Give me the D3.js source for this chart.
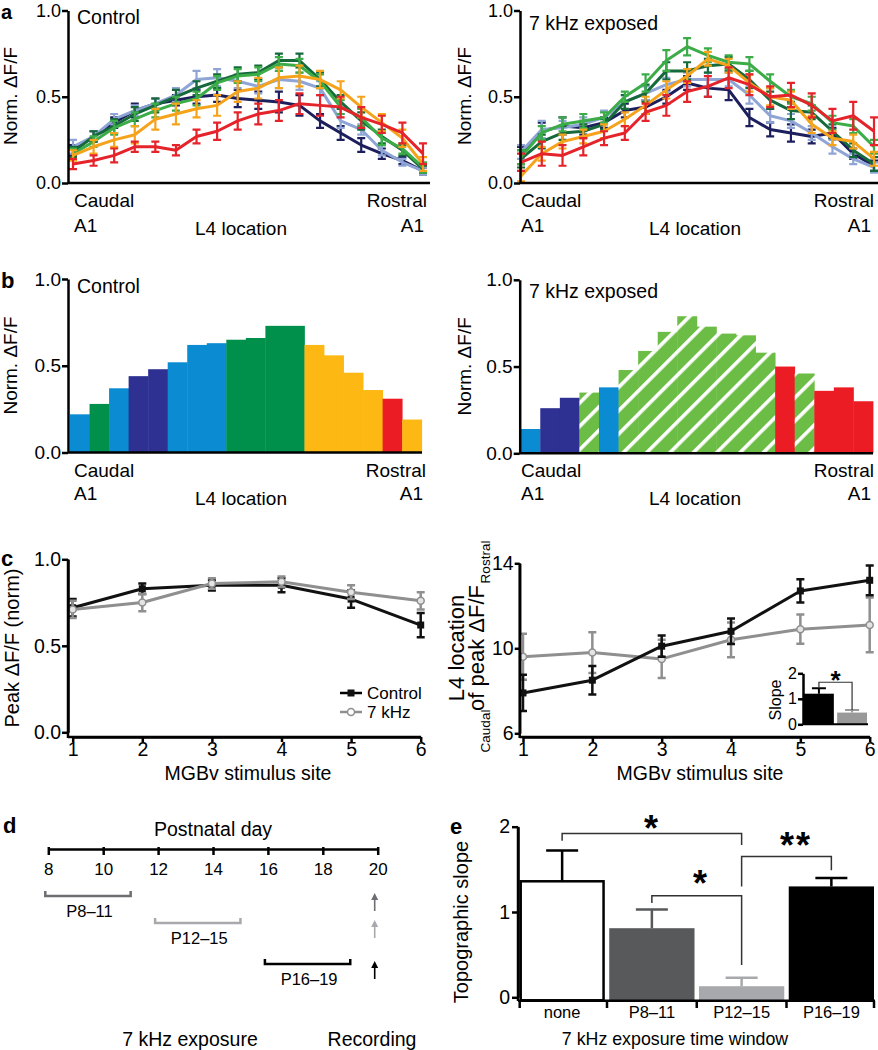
<!DOCTYPE html>
<html><head><meta charset="utf-8">
<script src="https://cdn.jsdelivr.net/npm/d3@7"></script>
<style>
body{margin:0;background:#fff;}
svg{display:block;font-family:"Liberation Sans",Arial,Helvetica,sans-serif;}
</style></head><body>
<svg id="fig" width="878" height="1050"></svg>
<script>
// ---------------- DATA ----------------
// Panel a: L4 locations (caudal -> rostral), 6 MGBv stimulus sites
const aLocations = [1,2,3,4,5,6,7,8,9,10,11,12,13,14,15,16,17,18];
const aSeries = ["site A","site B","site C","site D","site E","site F"];
const aControlMean = [
  [0.19,0.27,0.35,0.42,0.46,0.48,0.50,0.51,0.49,0.48,0.47,0.45,0.36,0.29,0.22,0.17,0.13,0.07],
  [0.21,0.27,0.37,0.42,0.46,0.51,0.60,0.61,0.59,0.56,0.60,0.59,0.55,0.36,0.31,0.19,0.12,0.07],
  [0.18,0.27,0.33,0.40,0.45,0.50,0.55,0.59,0.63,0.64,0.71,0.71,0.60,0.47,0.36,0.27,0.19,0.08],
  [0.17,0.24,0.32,0.37,0.42,0.46,0.49,0.58,0.62,0.63,0.69,0.68,0.59,0.44,0.38,0.26,0.20,0.09],
  [0.16,0.21,0.25,0.28,0.37,0.40,0.43,0.45,0.53,0.55,0.61,0.62,0.60,0.54,0.44,0.35,0.26,0.11],
  [0.11,0.13,0.16,0.21,0.21,0.19,0.27,0.30,0.36,0.40,0.42,0.46,0.45,0.44,0.38,0.34,0.29,0.17]
];
const aControlErr = [
  [0.03,0.03,0.03,0.04,0.03,0.03,0.04,0.04,0.05,0.05,0.06,0.06,0.04,0.04,0.04,0.03,0.02,0.02],
  [0.04,0.03,0.03,0.03,0.03,0.04,0.05,0.05,0.04,0.04,0.05,0.05,0.04,0.04,0.03,0.03,0.02,0.02],
  [0.03,0.03,0.04,0.04,0.04,0.04,0.04,0.04,0.04,0.04,0.04,0.04,0.04,0.04,0.05,0.04,0.03,0.02],
  [0.03,0.03,0.04,0.04,0.04,0.04,0.04,0.04,0.04,0.04,0.04,0.04,0.04,0.04,0.05,0.04,0.03,0.03],
  [0.03,0.04,0.04,0.05,0.06,0.06,0.05,0.06,0.06,0.06,0.06,0.06,0.05,0.05,0.06,0.05,0.05,0.04],
  [0.03,0.03,0.04,0.03,0.03,0.03,0.04,0.05,0.05,0.06,0.06,0.06,0.06,0.06,0.06,0.05,0.06,0.06]
];
const a7kMean = [
  [0.16,0.30,0.33,0.32,0.35,0.42,0.44,0.50,0.58,0.55,0.54,0.38,0.31,0.29,0.27,0.29,0.17,0.10],
  [0.18,0.31,0.32,0.34,0.38,0.47,0.52,0.57,0.60,0.60,0.60,0.51,0.39,0.36,0.29,0.21,0.14,0.09],
  [0.14,0.24,0.29,0.30,0.34,0.47,0.52,0.65,0.65,0.68,0.69,0.60,0.48,0.42,0.41,0.30,0.19,0.11],
  [0.15,0.29,0.34,0.36,0.38,0.50,0.58,0.71,0.79,0.74,0.70,0.69,0.59,0.50,0.46,0.35,0.33,0.21],
  [0.04,0.17,0.24,0.27,0.30,0.37,0.45,0.54,0.62,0.72,0.68,0.58,0.50,0.48,0.34,0.26,0.24,0.14],
  [0.12,0.17,0.16,0.21,0.26,0.29,0.41,0.45,0.53,0.56,0.61,0.57,0.50,0.51,0.45,0.36,0.39,0.30]
];
const a7kErr = [
  [0.05,0.05,0.05,0.04,0.03,0.04,0.04,0.04,0.04,0.05,0.06,0.05,0.04,0.05,0.04,0.03,0.03,0.03],
  [0.04,0.05,0.04,0.04,0.04,0.04,0.04,0.04,0.04,0.04,0.04,0.05,0.04,0.04,0.04,0.04,0.03,0.03],
  [0.05,0.04,0.04,0.04,0.03,0.04,0.05,0.05,0.05,0.04,0.04,0.05,0.05,0.05,0.04,0.04,0.04,0.04],
  [0.04,0.04,0.04,0.04,0.03,0.03,0.05,0.06,0.05,0.04,0.04,0.04,0.04,0.04,0.04,0.04,0.04,0.04],
  [0.03,0.04,0.04,0.04,0.04,0.04,0.05,0.05,0.04,0.04,0.04,0.05,0.05,0.05,0.05,0.04,0.04,0.04],
  [0.05,0.07,0.06,0.05,0.04,0.04,0.05,0.06,0.06,0.06,0.06,0.06,0.06,0.07,0.07,0.07,0.08,0.08]
];

// Panel b: peak map, value and best-site group per location
const bControlValue = [0.22,0.28,0.37,0.44,0.48,0.52,0.62,0.63,0.65,0.66,0.73,0.73,0.62,0.56,0.46,0.36,0.31,0.19];
const bControlGroup = ["blue","green","blue","indigo","indigo","blue","blue","blue","green","green","green","green","orange","orange","orange","orange","red","orange"];
const b7kValue = [0.14,0.26,0.32,0.35,0.38,0.48,0.59,0.70,0.79,0.73,0.69,0.68,0.58,0.50,0.46,0.36,0.38,0.30];
const b7kGroup = ["blue","indigo","indigo","hatch","blue","hatch","hatch","hatch","hatch","hatch","hatch","hatch","hatch","red","hatch","red","red","red"];

// Panel c
const cSites = [1,2,3,4,5,6];
const cPeakControl = [0.72,0.83,0.85,0.85,0.77,0.62];
const cPeakControlErr = [0.05,0.03,0.03,0.04,0.05,0.07];
const cPeak7k = [0.71,0.75,0.86,0.87,0.81,0.76];
const cPeak7kErr = [0.05,0.05,0.03,0.03,0.04,0.05];
const cLocControl = [7.9,8.5,10.1,10.8,12.7,13.2];
const cLocControlErr = [0.85,0.67,0.5,0.6,0.55,0.7];
const cLoc7k = [9.6,9.8,9.5,10.4,10.9,11.1];
const cLoc7kErr = [1.08,0.96,0.9,0.82,0.69,1.29];
const cGroups = ["Control","7 kHz"];
const cInsetSlope = [1.2,0.46];
const cInsetErr = [0.21,0.10];

// Panel d
const dDays = [8,10,12,14,16,18,20];
const dWindowLabels = ["P8–11","P12–15","P16–19"];
const dWindowStart = [8,12,16];
const dWindowEnd = [11,15,19];
const dRecordingDay = 20;

// Panel e
const eWindows = ["none","P8–11","P12–15","P16–19"];
const eSlope = [1.36,0.81,0.13,1.30];
const eSlopeErr = [0.36,0.22,0.10,0.10];
const eSigPairs = [["none","P12–15","*"],["P8–11","P12–15","*"],["P12–15","P16–19","**"]];
const eSigTop = [1.92,1.19,1.65];
const eSigLeftEnd = [1.835,1.105,1.30];
const eSigRightEnd = [1.785,0.38,1.49];

// ---------------- DRAW ----------------
const svg = d3.select("#fig");
const FAM = '"Liberation Sans",Arial,Helvetica,sans-serif';
const colorsA = ["#1c1f5c","#8fa5d6","#16693b","#3cac48","#f6a31c","#e5232a"];
const colorsB = {blue:"#0a8bd2",green:"#00904c",indigo:"#2e3192",orange:"#fdb813",red:"#ec1c24",hatch:"url(#hatch)"};

function txt(g,x,y,s,o={}) {
  return g.append("text").attr("x",x).attr("y",y).text(s)
    .attr("font-size",o.size||19).attr("text-anchor",o.anchor||"start")
    .attr("font-weight",o.weight||null).attr("fill",o.fill||"#000");
}
function vtxt(g,cx,cy,s,size) {
  return g.append("text").attr("transform",`translate(${cx},${cy}) rotate(-90)`)
    .attr("text-anchor","middle").attr("dy","0.35em").attr("font-size",size).text(s);
}
function styleAxis(g,size) {
  g.attr("font-family",FAM).attr("font-size",size);
  g.select(".domain").attr("stroke","#000").attr("stroke-width",2.5);
  g.selectAll(".tick line").attr("stroke","#000").attr("stroke-width",2.5);
  g.selectAll(".tick text").attr("fill","#000");
}
function yAxis(g,x0,y,vals,fmt,size,tick,pad) {
  const a = g.append("g").attr("transform",`translate(${x0},0)`)
    .call(d3.axisLeft(y).tickValues(vals).tickFormat(fmt).tickSize(tick).tickSizeOuter(0).tickPadding(pad));
  styleAxis(a,size);
  return a;
}
function hline(g,x1,x2,y,w) {
  g.append("line").attr("x1",x1).attr("x2",x2).attr("y1",y).attr("y2",y).attr("stroke","#000").attr("stroke-width",w||2.5);
}
function vline(g,x,y1,y2,w) {
  g.append("line").attr("x1",x).attr("x2",x).attr("y1",y1).attr("y2",y2).attr("stroke","#000").attr("stroke-width",w||2.5);
}
function errLine(g,x,y,xs,m,e,color,sw,cap,lw) {
  const eb = g.append("g").attr("stroke",color).attr("stroke-width",sw).attr("fill","none");
  m.forEach((v,i)=>{
    const xx=x(xs[i]), lo=y(v-e[i]), hi=y(v+e[i]);
    eb.append("path").attr("d",`M${xx},${lo}V${hi}M${xx-cap/2},${lo}h${cap}M${xx-cap/2},${hi}h${cap}`);
  });
  g.append("path").datum(m).attr("fill","none").attr("stroke",color).attr("stroke-width",lw)
    .attr("stroke-linejoin","round")
    .attr("d",d3.line().x((d,i)=>x(xs[i])).y(d=>y(d)));
}

// defs: hatch pattern
const defs = svg.append("defs");
const pat = defs.append("pattern").attr("id","hatch").attr("patternUnits","userSpaceOnUse")
  .attr("width",16.5).attr("height",16.5).attr("patternTransform","rotate(45)");
pat.append("rect").attr("width",16.5).attr("height",16.5).attr("fill","#6cbd45");
pat.append("rect").attr("width",3.6).attr("height",16.5).attr("fill","#fff");

// panel letters
txt(svg,1,18.5,"a",{size:20,weight:"bold"});
txt(svg,1,288,"b",{size:22,weight:"bold"});
txt(svg,1,566,"c",{size:22,weight:"bold"});
txt(svg,3,833,"d",{size:22,weight:"bold"});
txt(svg,450,834,"e",{size:22,weight:"bold"});

// ---------- Panel a ----------
function panelA(cfg) {
  const g = svg.append("g");
  const x = d3.scalePoint().domain(aLocations).range(cfg.xr);
  const y = d3.scaleLinear().domain([0,1]).range([183,10.5]);
  cfg.means.forEach((m,si)=>errLine(g,x,y,aLocations,m,cfg.errs[si],colorsA[si],2.2,8,3));
  yAxis(g,cfg.ax,y,[0,0.5,1],d3.format(".1f"),18,6,1);
  hline(g,cfg.ax,cfg.axEnd,183);
  txt(g,cfg.titleX,cfg.titleY,cfg.title,{size:19.5});
  vtxt(g,cfg.ylabX,96,"Norm. ΔF/F",19);
  txt(g,cfg.cX,207,"Caudal");
  txt(g,cfg.cX,232,"A1");
  txt(g,cfg.rX,207,"Rostral",{anchor:"end"});
  txt(g,cfg.rX-3,232,"A1",{anchor:"end"});
  txt(g,cfg.lX,235,"L4 location",{anchor:"middle"});
}
panelA({xr:[73,423],ax:68,axEnd:430,means:aControlMean,errs:aControlErr,title:"Control",titleX:77,titleY:24,ylabX:10,cX:74,rX:427,lX:241});
panelA({xr:[521,874],ax:520,axEnd:878,means:a7kMean,errs:a7kErr,title:"7 kHz exposed",titleX:529,titleY:30,ylabX:464,cX:521,rX:874,lX:695});

// ---------- Panel b ----------
function panelB(cfg) {
  const g = svg.append("g");
  const x = d3.scaleBand().domain(aLocations).range(cfg.xr).padding(0);
  const y = d3.scaleLinear().domain([0,1]).range([cfg.y0,cfg.y0-173.5]);
  g.selectAll("rect.bar").data(cfg.vals).join("rect").attr("class","bar")
    .attr("x",(d,i)=>x(aLocations[i])).attr("width",x.bandwidth()+0.4)
    .attr("y",d=>y(d)).attr("height",d=>y(0)-y(d))
    .attr("fill",(d,i)=>colorsB[cfg.groups[i]]);
  yAxis(g,cfg.ax,y,[0,0.5,1],d3.format(".1f"),19,6,1);
  hline(g,cfg.ax,cfg.axEnd,cfg.y0);
  txt(g,cfg.titleX,cfg.titleY,cfg.title,{size:19.5});
  vtxt(g,cfg.ylabX,cfg.y0-87,"Norm. ΔF/F",19);
  txt(g,cfg.cX,477,"Caudal");
  txt(g,cfg.cX,500,"A1");
  txt(g,cfg.rX,477,"Rostral",{anchor:"end"});
  txt(g,cfg.rX-3,500,"A1",{anchor:"end"});
  txt(g,cfg.lX,505,"L4 location",{anchor:"middle"});
}
panelB({xr:[70,421.7],y0:452.5,ax:68,axEnd:422,vals:bControlValue,groups:bControlGroup,title:"Control",titleX:77,titleY:293,ylabX:10,cX:74,rX:426,lX:241});
panelB({xr:[520.7,873],y0:453.3,ax:519.7,axEnd:873,vals:b7kValue,groups:b7kGroup,title:"7 kHz exposed",titleX:529,titleY:298,ylabX:464,cX:521,rX:874,lX:695});

// ---------- Panel c (left) ----------
(function(){
  const g = svg.append("g");
  const x = d3.scaleLinear().domain([1,6]).range([72.7,420.7]);
  const y = d3.scaleLinear().domain([0,1]).range([732.3,559.3]);
  errLine(g,x,y,cSites,cPeakControl,cPeakControlErr,"#111",2.5,8,3);
  g.selectAll("rect.mk").data(cPeakControl).join("rect").attr("class","mk")
    .attr("x",(d,i)=>x(cSites[i])-3.5).attr("y",d=>y(d)-3.5).attr("width",7).attr("height",7).attr("fill","#111");
  errLine(g,x,y,cSites,cPeak7k,cPeak7kErr,"#8f8f8f",2.5,8,3);
  g.selectAll("circle.mk").data(cPeak7k).join("circle").attr("class","mk")
    .attr("cx",(d,i)=>x(cSites[i])).attr("cy",d=>y(d)).attr("r",3.5)
    .attr("fill","#e4e4e4").attr("stroke","#8f8f8f").attr("stroke-width",1.5);
  yAxis(g,68,y,[0,0.5,1],d3.format(".1f"),19.5,6,1);
  vline(g,68,559.3,738);
  const xa = g.append("g").attr("transform","translate(0,737)")
    .call(d3.axisBottom(x).tickValues(cSites).tickFormat(d3.format("d")).tickSize(5).tickSizeOuter(0).tickPadding(0));
  styleAxis(xa,19.5);
  hline(g,68,421,737);
  txt(g,248,780,"MGBv stimulus site",{anchor:"middle",size:19.5});
  vtxt(g,12,648,"Peak ΔF/F (norm)",20);
  // legend
  const lg = g.append("g");
  hline(lg,340,362,693,2.5);
  lg.append("rect").attr("x",347.5).attr("y",689.5).attr("width",7).attr("height",7).attr("fill","#111");
  txt(lg,367,699,cGroups[0],{size:17});
  lg.append("line").attr("x1",340).attr("x2",362).attr("y1",712).attr("y2",712).attr("stroke","#8f8f8f").attr("stroke-width",2.5);
  lg.append("circle").attr("cx",351).attr("cy",712).attr("r",3.5).attr("fill","#fff").attr("stroke","#8f8f8f").attr("stroke-width",1.5);
  txt(lg,367,718,cGroups[1],{size:17});
})();

// ---------- Panel c (right) ----------
(function(){
  const g = svg.append("g");
  const x = d3.scaleLinear().domain([1,6]).range([523,869.7]);
  const y = d3.scaleLinear().domain([6,14]).range([733.3,563.3]);
  errLine(g,x,y,cSites,cLoc7k,cLoc7kErr,"#8f8f8f",2.5,8,3);
  g.selectAll("circle.mk").data(cLoc7k).join("circle").attr("class","mk")
    .attr("cx",(d,i)=>x(cSites[i])).attr("cy",d=>y(d)).attr("r",3.5)
    .attr("fill","#e4e4e4").attr("stroke","#8f8f8f").attr("stroke-width",1.5);
  errLine(g,x,y,cSites,cLocControl,cLocControlErr,"#111",2.5,8,3);
  g.selectAll("rect.mk").data(cLocControl).join("rect").attr("class","mk")
    .attr("x",(d,i)=>x(cSites[i])-3.5).attr("y",d=>y(d)-3.5).attr("width",7).attr("height",7).attr("fill","#111");
  yAxis(g,519.7,y,[6,10,14],d3.format("d"),19.5,5,1);
  vline(g,519.7,563.3,738);
  const xa = g.append("g").attr("transform","translate(0,737)")
    .call(d3.axisBottom(x).tickValues(cSites).tickFormat(d3.format("d")).tickSize(5).tickSizeOuter(0).tickPadding(0));
  styleAxis(xa,19.5);
  hline(g,519.7,870,737);
  txt(g,700,780,"MGBv stimulus site",{anchor:"middle",size:19.5});
  vtxt(g,456,648,"L4 location",22);
  vtxt(g,476,648,"of peak ΔF/F",22);
  vtxt(g,485,562,"Rostral",13.5);
  vtxt(g,485,731,"Caudal",13.5);
  // inset
  const ix = d3.scaleBand().domain(cGroups).range([804,867]).paddingInner(0.1);
  const iy = d3.scaleLinear().domain([0,2]).range([724.3,673.3]);
  const icol = ["#000","#999"];
  cGroups.forEach((c,i)=>{
    const cx = ix(c)+ix.bandwidth()/2;
    g.append("path").attr("d",`M${cx},${iy(cInsetSlope[i])}V${iy(cInsetSlope[i]+cInsetErr[i])}M${cx-7},${iy(cInsetSlope[i]+cInsetErr[i])}h14`)
      .attr("stroke",icol[i]).attr("stroke-width",2).attr("fill","none");
    g.append("rect").attr("x",ix(c)).attr("width",ix.bandwidth()).attr("y",iy(cInsetSlope[i]))
      .attr("height",iy(0)-iy(cInsetSlope[i])).attr("fill",icol[i]);
  });
  yAxis(g,803,iy,[0,1,2],d3.format("d"),16,5,1);
  hline(g,803,868,724.3,2);
  const lx = ix(cGroups[0])+ix.bandwidth()/2, rx = ix(cGroups[1])+ix.bandwidth()/2;
  g.append("path").attr("d",`M${lx},${iy(1.41)}V${iy(1.65)}H${rx}V${iy(0.56)}`)
    .attr("fill","none").attr("stroke","#333").attr("stroke-width",1.2);
  txt(g,(lx+rx)/2,689,"*",{anchor:"middle",size:26,weight:"bold"});
  vtxt(g,775,700,"Slope",16);
})();

// ---------- Panel d ----------
(function(){
  const g = svg.append("g");
  const x = d3.scaleLinear().domain([8,20]).range([48.3,377.7]);
  txt(g,213,836,"Postnatal day",{anchor:"middle",size:19.5});
  const xa = g.append("g").attr("transform","translate(0,849)")
    .call(d3.axisBottom(x).tickValues(dDays).tickFormat(d3.format("d")).tickSize(6).tickSizeOuter(0).tickPadding(8));
  styleAxis(xa,17);
  xa.selectAll(".tick line").attr("y1",-2);
  const rowY = [896,923,964];
  const wcol = ["#6d6e71","#a7a9ac","#000"];
  dWindowLabels.forEach((lab,i)=>{
    const x1 = x(dWindowStart[i]), x2 = x(dWindowEnd[i]), yy = rowY[i];
    g.append("path").attr("d",`M${x1-3},${yy-5}V${yy}H${x2}V${yy-5}`)
      .attr("fill","none").attr("stroke",wcol[i]).attr("stroke-width",2.5);
    txt(g,(x1+x2)/2,yy+21,lab,{anchor:"middle",size:16.5});
    const ax = x(dRecordingDay)-3;
    g.append("line").attr("x1",ax).attr("x2",ax).attr("y1",yy+15).attr("y2",yy+2)
      .attr("stroke",wcol[i]).attr("stroke-width",1.6);
    g.append("path").attr("d",`M${ax-3.5},${yy+4}L${ax},${yy-3}L${ax+3.5},${yy+4}Z`).attr("fill",wcol[i]);
  });
  txt(g,190,1046,"7 kHz exposure",{anchor:"middle",size:19.5});
  txt(g,372,1046,"Recording",{anchor:"middle",size:19.5});
})();

// ---------- Panel e ----------
(function(){
  const g = svg.append("g");
  const x = d3.scaleBand().domain(eWindows).range([519.5,874]).paddingInner(0.05).paddingOuter(0);
  const y = d3.scaleLinear().domain([0,2]).range([997.3,826.7]);
  const fills = ["#fff","#58595b","#a7a9ac","#000"];
  const ecol = ["#000","#58595b","#a7a9ac","#000"];
  eWindows.forEach((w,i)=>{
    const cx = x(w)+x.bandwidth()/2, top = y(eSlope[i]+eSlopeErr[i]);
    g.append("path").attr("d",`M${cx},${y(eSlope[i])}V${top}M${cx-16},${top}h32`)
      .attr("stroke",ecol[i]).attr("stroke-width",2.5).attr("fill","none");
    g.append("rect").attr("x",x(w)+(i===0?1.2:0)).attr("width",x.bandwidth()-(i===0?2.4:0))
      .attr("y",y(eSlope[i])).attr("height",y(0)-y(eSlope[i])+3)
      .attr("fill",fills[i]).attr("stroke",i===0?"#000":"none").attr("stroke-width",2.5);
  });
  yAxis(g,518,y,[0,1,2],d3.format("d"),19.5,6,2);
  vline(g,518,826.7,1001);
  hline(g,518,875,1000.7);
  const step = x.step(), gap = step - x.bandwidth();
  const bounds = eWindows.map((w,i)=> i===0 ? 519.7 : x(w)-gap/2).concat([874]);
  bounds.forEach(b=>vline(g,b,1000.7,1008,2.5));
  eWindows.forEach(w=>txt(g,x(w)+x.bandwidth()/2,1018,w,{anchor:"middle",size:16.5}));
  txt(g,675,1045,"7 kHz exposure time window",{anchor:"middle",size:17.8});
  vtxt(g,461,922,"Topographic slope",20);
  // significance
  eSigPairs.forEach((p,i)=>{
    const lx = x(p[0])+x.bandwidth()/2, rx = x(p[1])+x.bandwidth()/2;
    g.append("path").attr("d",`M${lx},${y(eSigLeftEnd[i])}V${y(eSigTop[i])}H${rx}V${y(eSigRightEnd[i])}`)
      .attr("fill","none").attr("stroke","#333").attr("stroke-width",1.5);
  });
  txt(g,651,841,"*",{anchor:"middle",size:36,weight:"bold"});
  txt(g,700,896,"*",{anchor:"middle",size:36,weight:"bold"});
  txt(g,796,858,"**",{anchor:"middle",size:36,weight:"bold"}).attr("letter-spacing",2);
})();
</script>
</body></html>
